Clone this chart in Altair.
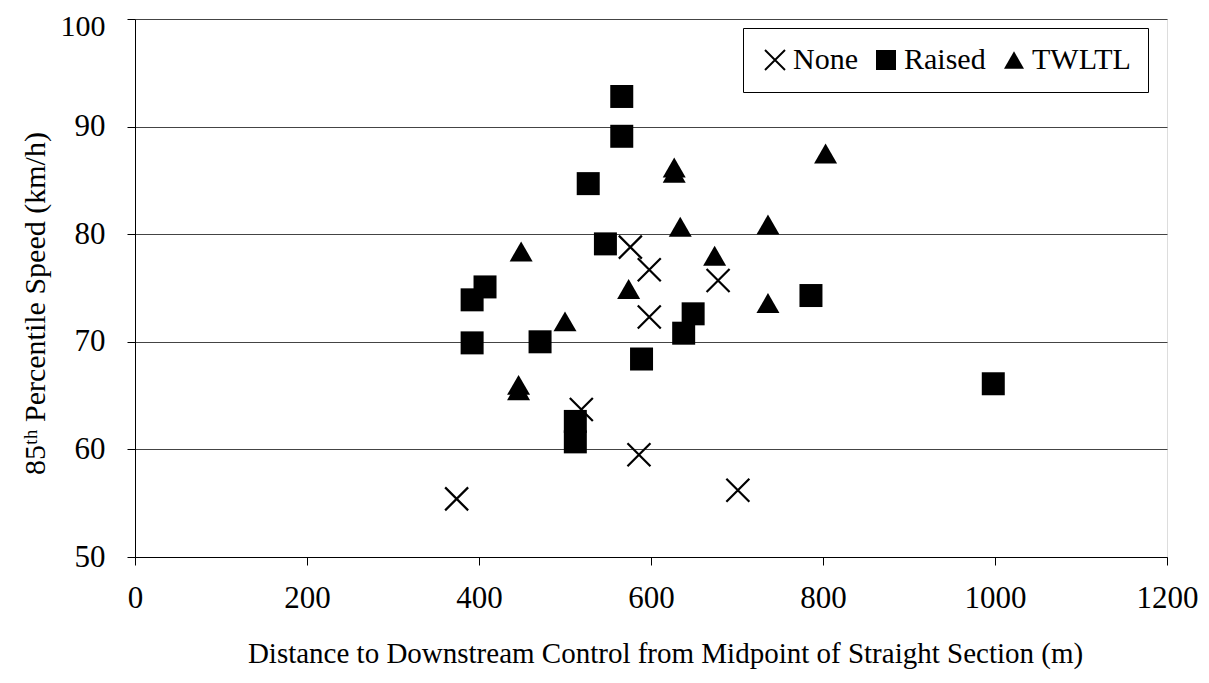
import altair as alt
import pandas as pd

# ---- data ----
categories = ["None", "Raised", "TWLTL"]

none_x = [374, 519, 586, 576, 598, 598, 678, 701]
none_y = [55.4, 63.7, 59.5, 78.8, 76.7, 72.3, 75.7, 56.2]

raised_x = [566, 566, 527, 547, 407, 392, 392, 471, 589, 649, 638, 512, 512, 786, 998]
raised_y = [92.8, 89.1, 84.7, 79.1, 75.1, 73.9, 69.9, 70.0, 68.4, 72.6, 70.8, 62.6, 60.7, 74.3, 66.1]

twltl_x = [449, 500, 574, 627, 627, 634, 674, 736, 736, 803, 446, 446]
twltl_y = [78.4, 71.9, 74.9, 86.2, 85.7, 80.7, 78.0, 80.9, 73.6, 87.5, 65.5, 66.0]

x_ticks = [0, 200, 400, 600, 800, 1000, 1200]
y_ticks = [50, 60, 70, 80, 90, 100]

rows = []
for cat, xs, ys in zip(categories, [none_x, raised_x, twltl_x], [none_y, raised_y, twltl_y]):
    for xv, yv in zip(xs, ys):
        rows.append({"distance": xv, "speed": yv, "type": cat})
df = pd.DataFrame(rows)

FONT = "Liberation Serif"

# filled "X" glyph made of two thin diagonal bars (same winding -> union)
k = 0.068
XPATH = (
    f"M{-1+k},{-1-k}L{1+k},{1-k}L{1-k},{1+k}L{-1-k},{-1+k}Z"
    f"M{-1-k},{1-k}L{1-k},{-1-k}L{1+k},{-1+k}L{-1+k},{1+k}Z"
)

chart = alt.Chart(df).mark_point(
    filled=True, opacity=1, color="black", fill="black",
    strokeWidth=0, size=529
).encode(
    x=alt.X(
        "distance:Q",
        scale=alt.Scale(domain=[0, 1200], nice=False, zero=False),
        axis=alt.Axis(
            values=x_ticks, format="d", grid=False, tickSize=8,
            tickColor="black", domainColor="black", labelPadding=18,
            labelFontSize=31, labelFont=FONT, labelColor="black",
            labelFlush=False,
            title="Distance to Downstream Control from Midpoint of Straight Section (m)",
            titleFont=FONT, titleFontSize=29, titleFontWeight="normal",
            titleColor="black", titleX=530, titleY=105,
            titleBaseline="alphabetic",
        ),
    ),
    y=alt.Y(
        "speed:Q",
        scale=alt.Scale(domain=[50, 100], nice=False, zero=False),
        axis=alt.Axis(
            values=y_ticks, format="d", grid=True, gridColor="#444444",
            gridWidth=1, gridOpacity=1, tickSize=8, tickColor="black",
            domainColor="black", labelPadding=22, labelFont=FONT,
            labelColor="black", labelFlush=False,
            labelFontSize={"condition": {"test": "datum.value == 100", "value": 30}, "value": 31},
            labelOffset={"condition": {"test": "datum.value == 100", "value": 7}, "value": 0},
            title="85ᵗʰ Percentile Speed (km/h)",
            titleFont=FONT, titleFontSize=30, titleFontWeight="normal",
            titleColor="black", titleX=-100, titleY=284,
            titleBaseline="middle", titleAlign="center", titleAngle=270,
        ),
    ),
    shape=alt.Shape(
        "type:N",
        scale=alt.Scale(domain=categories, range=[XPATH, "square", "triangle-up"]),
        legend=alt.Legend(
            title=None, orient="none", legendX=608, legendY=9,
            direction="horizontal", labelFont=FONT, labelFontSize=30,
            labelColor="black", symbolSize=400, symbolFillColor="black",
            symbolStrokeColor="black", symbolStrokeWidth=0,
            symbolOpacity=1, strokeColor="black", fillColor="white",
            padding=17, columnPadding=13, labelOffset=3, cornerRadius=0,
        ),
    ),
).properties(
    width=1032,
    height=538,
    autosize=alt.AutoSizeParams(type="none"),
    padding={"left": 127, "top": 11, "right": 33, "bottom": 113},
).configure_view(
    stroke="#333333", strokeWidth=1
).configure(
    background="white"
)

chart.save("out.html", embed_options={"renderer": "svg", "actions": False})
